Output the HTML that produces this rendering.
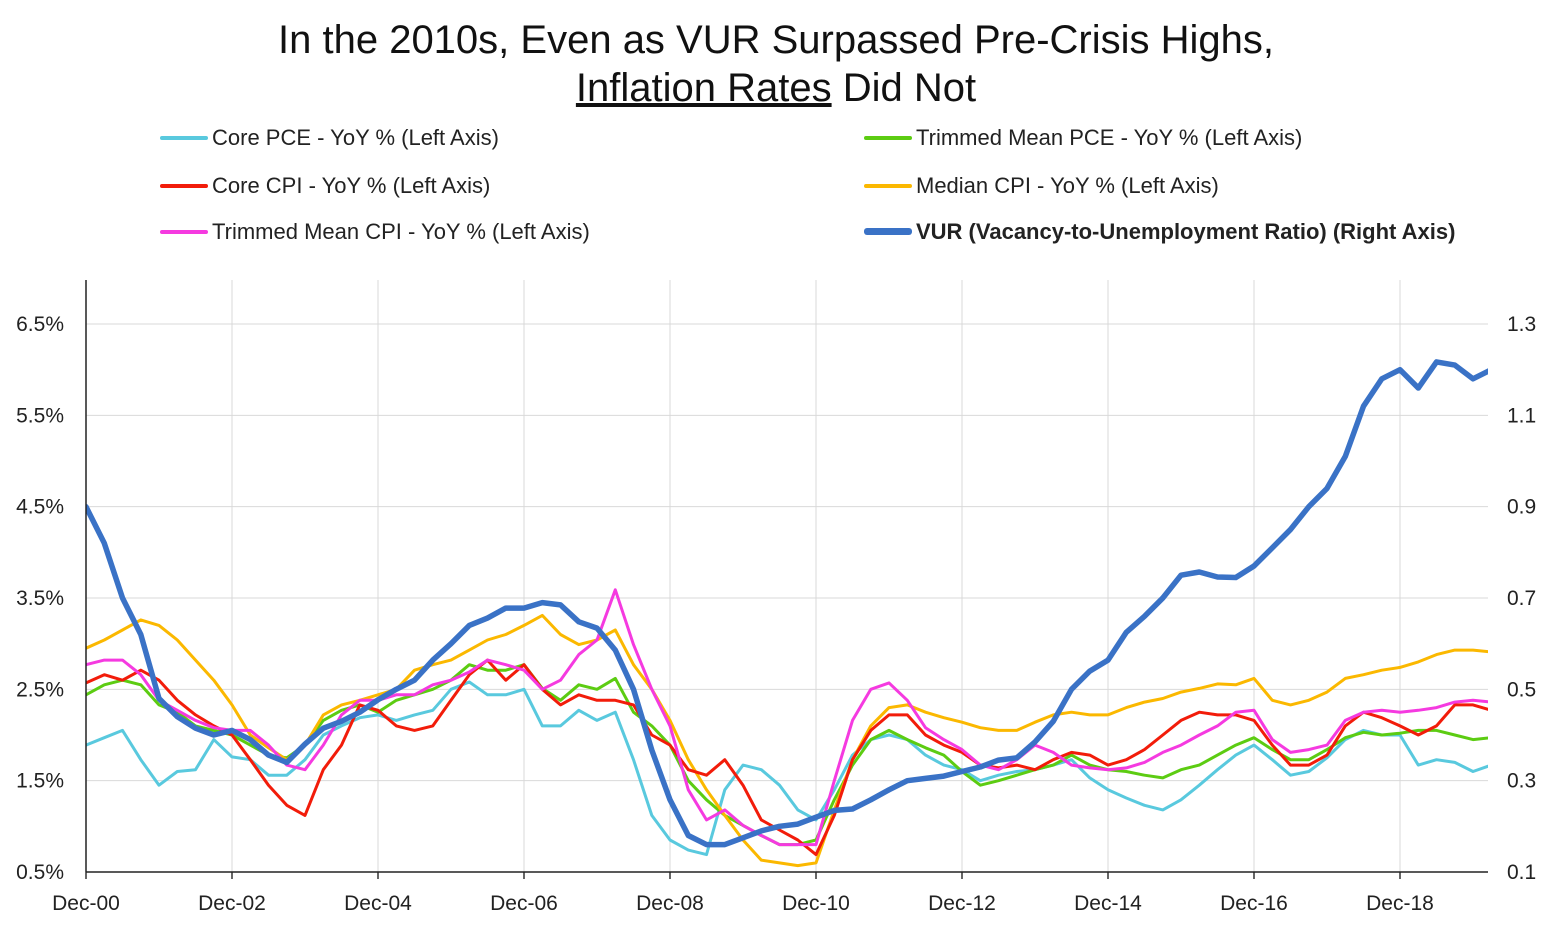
<!DOCTYPE html>
<html>
<head>
<meta charset="utf-8">
<style>
  html,body{margin:0;padding:0;background:#fff;}
  body{width:1552px;height:926px;overflow:hidden;position:relative;font-family:"Liberation Sans",sans-serif;}
  .title{position:absolute;left:0;width:1552px;text-align:center;font-size:40px;color:#111;line-height:48px;}
  .leg{position:absolute;font-size:22px;color:#222;white-space:nowrap;}
  .sw{position:absolute;height:4px;border-radius:2px;}
</style>
</head>
<body>
<div class="title" style="top:16px">In the 2010s, Even as VUR Surpassed Pre-Crisis Highs,</div>
<div class="title" style="top:64px"><span style="text-decoration:underline">Inflation Rates</span> Did Not</div>

<div class="sw" style="left:160px;top:136px;width:48px;background:#59c9de"></div>
<div class="leg" style="left:212px;top:125px">Core PCE - YoY % (Left Axis)</div>
<div class="sw" style="left:160px;top:184px;width:48px;background:#f21c0a"></div>
<div class="leg" style="left:212px;top:173px">Core CPI - YoY % (Left Axis)</div>
<div class="sw" style="left:160px;top:230px;width:48px;background:#f53ae0"></div>
<div class="leg" style="left:212px;top:219px">Trimmed Mean CPI - YoY % (Left Axis)</div>
<div class="sw" style="left:864px;top:136px;width:48px;background:#5ccc12"></div>
<div class="leg" style="left:916px;top:125px">Trimmed Mean PCE - YoY % (Left Axis)</div>
<div class="sw" style="left:864px;top:184px;width:48px;background:#fbb800"></div>
<div class="leg" style="left:916px;top:173px">Median CPI - YoY % (Left Axis)</div>
<div class="sw" style="left:864px;top:228px;width:48px;height:7px;background:#3a72c6;border-radius:3px"></div>
<div class="leg" style="left:916px;top:219px;font-weight:bold">VUR (Vacancy-to-Unemployment Ratio) (Right Axis)</div>

<svg id="chart" width="1552" height="926" style="position:absolute;left:0;top:0">
  <defs><clipPath id="plotclip"><rect x="86" y="270" width="1402" height="610"/></clipPath></defs>
  <g id="grid"></g>
  <g id="series" clip-path="url(#plotclip)"></g>
  <g id="axes"></g>
</svg>

<script>
const xLabels = ["Dec-00","Dec-02","Dec-04","Dec-06","Dec-08","Dec-10","Dec-12","Dec-14","Dec-16","Dec-18"];
const leftTicks = [0.5,1.5,2.5,3.5,4.5,5.5,6.5];
const leftTickLabels = ["0.5%","1.5%","2.5%","3.5%","4.5%","5.5%","6.5%"];
const rightTickLabels = ["0.1","0.3","0.5","0.7","0.9","1.1","1.3"];
const corePCE = [1.89,1.97,2.05,1.73,1.45,1.6,1.62,1.95,1.76,1.73,1.56,1.56,1.73,2.0,2.1,2.19,2.22,2.16,2.22,2.27,2.5,2.58,2.44,2.44,2.5,2.1,2.1,2.27,2.16,2.25,1.73,1.12,0.85,0.74,0.69,1.4,1.67,1.62,1.45,1.18,1.07,1.4,1.78,1.95,2.0,1.95,1.78,1.67,1.62,1.5,1.56,1.6,1.62,1.67,1.73,1.53,1.4,1.31,1.23,1.18,1.29,1.45,1.62,1.78,1.89,1.73,1.56,1.6,1.75,1.95,2.05,2.0,2.0,1.67,1.73,1.7,1.6,1.67];
const trimPCE = [2.44,2.55,2.6,2.55,2.33,2.25,2.1,2.05,2.0,1.89,1.78,1.75,1.89,2.16,2.27,2.33,2.25,2.38,2.44,2.5,2.6,2.77,2.71,2.71,2.77,2.51,2.38,2.55,2.5,2.62,2.25,2.1,1.89,1.5,1.29,1.12,1.01,0.9,0.8,0.8,0.85,1.29,1.67,1.95,2.05,1.95,1.86,1.78,1.6,1.45,1.5,1.56,1.62,1.67,1.78,1.67,1.62,1.6,1.56,1.53,1.62,1.67,1.78,1.89,1.97,1.84,1.73,1.73,1.84,1.97,2.03,2.0,2.02,2.05,2.05,2.0,1.95,1.97];
const coreCPI = [2.57,2.66,2.6,2.71,2.6,2.38,2.22,2.1,2.0,1.73,1.45,1.23,1.12,1.62,1.89,2.33,2.27,2.1,2.05,2.1,2.38,2.66,2.82,2.6,2.77,2.5,2.33,2.44,2.38,2.38,2.33,2.0,1.89,1.62,1.56,1.73,1.45,1.07,0.96,0.85,0.69,1.12,1.73,2.05,2.22,2.22,2.0,1.89,1.81,1.67,1.64,1.67,1.62,1.73,1.81,1.78,1.67,1.73,1.84,2.0,2.16,2.25,2.22,2.22,2.16,1.89,1.67,1.67,1.78,2.1,2.25,2.19,2.1,2.0,2.1,2.33,2.33,2.27];
const medianCPI = [2.95,3.04,3.15,3.26,3.2,3.04,2.82,2.6,2.33,2.0,1.86,1.73,1.89,2.22,2.33,2.38,2.44,2.5,2.71,2.77,2.82,2.93,3.04,3.1,3.2,3.31,3.1,2.99,3.04,3.15,2.77,2.5,2.16,1.73,1.4,1.12,0.85,0.63,0.6,0.57,0.6,1.18,1.73,2.1,2.3,2.33,2.25,2.19,2.14,2.08,2.05,2.05,2.14,2.22,2.25,2.22,2.22,2.3,2.36,2.4,2.47,2.51,2.56,2.55,2.62,2.38,2.33,2.38,2.47,2.62,2.66,2.71,2.74,2.8,2.88,2.93,2.93,2.91];
const trimCPI = [2.77,2.82,2.82,2.66,2.38,2.27,2.16,2.08,2.05,2.05,1.89,1.67,1.62,1.89,2.22,2.38,2.38,2.44,2.44,2.55,2.6,2.69,2.82,2.77,2.71,2.5,2.6,2.88,3.04,3.59,2.99,2.5,2.1,1.4,1.07,1.18,1.01,0.9,0.8,0.8,0.8,1.5,2.16,2.5,2.57,2.38,2.08,1.95,1.84,1.67,1.62,1.73,1.89,1.81,1.67,1.64,1.62,1.64,1.7,1.81,1.89,2.0,2.1,2.25,2.27,1.95,1.81,1.84,1.89,2.16,2.25,2.27,2.25,2.27,2.3,2.36,2.38,2.36];
const vur = [0.90,0.82,0.70,0.62,0.48,0.44,0.415,0.40,0.41,0.39,0.356,0.34,0.38,0.415,0.43,0.45,0.477,0.50,0.52,0.564,0.60,0.64,0.656,0.678,0.678,0.69,0.685,0.648,0.634,0.586,0.50,0.367,0.258,0.18,0.16,0.16,0.175,0.19,0.20,0.205,0.22,0.235,0.238,0.258,0.28,0.30,0.305,0.31,0.32,0.33,0.345,0.35,0.385,0.43,0.50,0.54,0.564,0.625,0.66,0.70,0.75,0.757,0.746,0.745,0.77,0.81,0.85,0.90,0.94,1.01,1.12,1.18,1.20,1.16,1.217,1.21,1.18,1.20];

const NS = "http://www.w3.org/2000/svg";
const X0 = 86, PX_PER_YEAR = 73, Y_BOTTOM = 872, PX_PER_PCT = 91.33, TOP = 280, RIGHT = 1488;
function xAt(i){ return X0 + PX_PER_YEAR * i / 4; }
function xYear(y){ return X0 + PX_PER_YEAR * y; }
function yLeft(v){ return Y_BOTTOM - (v - 0.5) * PX_PER_PCT; }
function yRight(v){ return yLeft(0.5 + (v - 0.1) * 5); }
function mk(tag, attrs, parent){ const e = document.createElementNS(NS, tag); for (const k in attrs) e.setAttribute(k, attrs[k]); parent.appendChild(e); return e; }

const grid = document.getElementById('grid'), axes = document.getElementById('axes'), series = document.getElementById('series');

leftTicks.forEach((v, k) => {
  const y = yLeft(v);
  const gl = mk('line', {x1:X0, x2:RIGHT, y1:y, y2:y, stroke:'#d9d9d9', 'stroke-width':1}, grid);
  
  
  const tl = mk('text', {x:64, y:y+7, 'text-anchor':'end', 'font-size':21, fill:'#222', 'font-family':'Liberation Sans, sans-serif'}, axes);
  tl.textContent = leftTickLabels[k];
  
  
  const tr = mk('text', {x:1507, y:y+7, 'text-anchor':'start', 'font-size':21, fill:'#222', 'font-family':'Liberation Sans, sans-serif'}, axes);
  tr.textContent = rightTickLabels[k];
  
  
});
xLabels.forEach((lab, k) => {
  const x = xYear(k * 2);
  if (k > 0) {
    const gv = mk('line', {x1:x, x2:x, y1:TOP, y2:Y_BOTTOM, stroke:'#d9d9d9', 'stroke-width':1}, grid);
    
    
  }
  const tk = mk('line', {x1:x, x2:x, y1:Y_BOTTOM, y2:Y_BOTTOM+7, stroke:'#333', 'stroke-width':1.5}, axes);
  
  
  const t = mk('text', {x:x, y:910, 'text-anchor':'middle', 'font-size':21, fill:'#222', 'font-family':'Liberation Sans, sans-serif'}, axes);
  t.textContent = lab;
  
  
});
const ya = mk('line', {x1:X0, x2:X0, y1:TOP, y2:Y_BOTTOM, stroke:'#222', 'stroke-width':1.5}, axes);


const xa = mk('line', {x1:X0, x2:RIGHT, y1:Y_BOTTOM, y2:Y_BOTTOM, stroke:'#222', 'stroke-width':1.5}, axes);



function drawLine(arr, yfn, color, width, name){
  const d = arr.map((v, i) => (i ? 'L' : 'M') + xAt(i).toFixed(1) + ' ' + yfn(v).toFixed(1)).join(' ');
  const p = mk('path', {d:d, fill:'none', stroke:color, 'stroke-width':width, 'stroke-linejoin':'round', 'stroke-linecap':'round'}, series);
  
  
}
drawLine(corePCE, yLeft, '#59c9de', 3, 'line-core-pce');
drawLine(trimPCE, yLeft, '#5ccc12', 3, 'line-trimmed-mean-pce');
drawLine(medianCPI, yLeft, '#fbb800', 3, 'line-median-cpi');
drawLine(coreCPI, yLeft, '#f21c0a', 3, 'line-core-cpi');
drawLine(trimCPI, yLeft, '#f53ae0', 3, 'line-trimmed-mean-cpi');
drawLine(vur, yRight, '#3a72c6', 5.5, 'line-vur');
</script>
</body>
</html>
